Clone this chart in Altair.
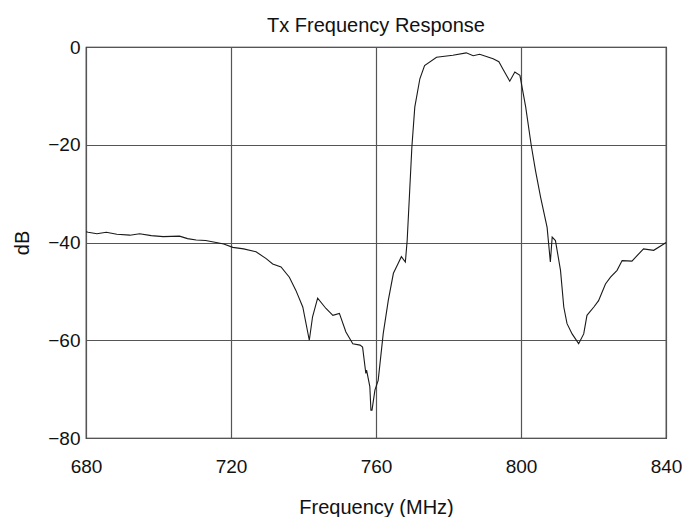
import altair as alt
import pandas as pd

freq = [680.0, 680.6, 683.0, 685.6, 688.5, 692.1, 694.8, 698.0, 701.3, 705.8, 708.0,
        710.4, 713.0, 715.9, 718.0, 720.5, 723.5, 726.9,
        729.7, 731.5, 733.8, 736.1, 737.9, 739.8, 741.6, 742.5, 743.9, 746.2, 748.1,
        749.9, 751.7, 753.6, 755.6, 756.3, 757.2, 757.4, 758.3, 758.6, 758.9, 759.7,
        760.6, 762.0, 763.4, 764.8, 766.1, 767.0, 768.1, 768.6, 769.3, 769.9, 770.7,
        772.1, 773.4, 776.7, 781.2, 784.9, 786.8, 788.6, 792.3, 793.9, 795.0, 796.9,
        798.3, 799.7, 801.3, 802.8, 804.0, 805.4, 807.2, 808.1, 808.6, 809.5, 810.9,
        811.8, 812.7, 814.1, 815.9, 817.3, 818.2, 820.1, 821.4, 823.3, 824.7, 826.5,
        827.9, 830.6, 833.8, 836.6, 839.4, 840.0]
db = [-37.8, -37.9, -38.2, -37.9, -38.3, -38.5, -38.2, -38.6, -38.8, -38.7, -39.2,
      -39.5, -39.6, -40.0, -40.3, -41.0, -41.3, -41.9,
      -43.3, -44.4, -45.0, -47.1, -49.8, -53.2, -60.0, -55.2, -51.4, -53.5, -54.9,
      -54.5, -58.3, -60.7, -61.0, -61.4, -66.8, -66.1, -69.5, -74.3, -74.3, -70.2,
      -68.2, -58.6, -51.8, -46.3, -44.3, -42.9, -44.0, -39.6, -29.3, -20.4, -12.3,
      -6.5, -3.8, -2.1, -1.7, -1.2, -1.8, -1.5, -2.4, -3.0, -4.5, -7.0,
      -5.1, -5.8, -12.3, -20.0, -25.3, -30.7, -36.9, -44.0, -38.9, -39.6, -45.7,
      -53.2, -56.6, -58.7, -60.7, -58.7, -54.9, -53.2, -51.9, -48.5, -47.1, -45.7,
      -43.7, -43.8, -41.3, -41.6, -40.3, -40.0]

x_ticks = [680, 720, 760, 800, 840]
y_ticks = [-80, -60, -40, -20, 0]

df = pd.DataFrame({"freq": freq, "db": db})

FONT = "Liberation Sans, Arial, sans-serif"

chart = alt.Chart(df).mark_line(color="#1a1a1a", strokeWidth=1.1, clip=True).encode(
    x=alt.X("freq:Q", title="Frequency (MHz)",
            scale=alt.Scale(domain=[680, 840], nice=False, zero=False),
            axis=alt.Axis(values=x_ticks, grid=True, gridColor="#555555", gridWidth=1.2,
                          ticks=False, domain=False, labelPadding=19, labelFontSize=19,
                          titleFontSize=20, titlePadding=21, labelFont=FONT, titleFont=FONT,
                          labelColor="#111", titleColor="#111", titleFontWeight="normal",
                          labelFlush=False)),
    y=alt.Y("db:Q", title="dB",
            scale=alt.Scale(domain=[-80, 0], nice=False, zero=False),
            axis=alt.Axis(values=y_ticks, grid=True, gridColor="#555555", gridWidth=1.2,
                          ticks=False, domain=False, labelPadding=6, labelFontSize=19,
                          titleFontSize=20, titlePadding=15, labelFont=FONT, titleFont=FONT,
                          labelColor="#111", titleColor="#111", titleFontWeight="normal",
                          labelFlush=False)),
).properties(
    width=580,
    height=391,
    title=alt.TitleParams("Tx Frequency Response", font=FONT, fontSize=20,
                          fontWeight="normal", color="#111", offset=2),
    autosize=alt.AutoSizeParams(type="none"),
    padding={"left": 86, "top": 47, "right": 16, "bottom": 79},
).configure_view(stroke="#111111", strokeWidth=1.2)

chart.save("out.html", embed_options={"renderer": "svg", "actions": False})
